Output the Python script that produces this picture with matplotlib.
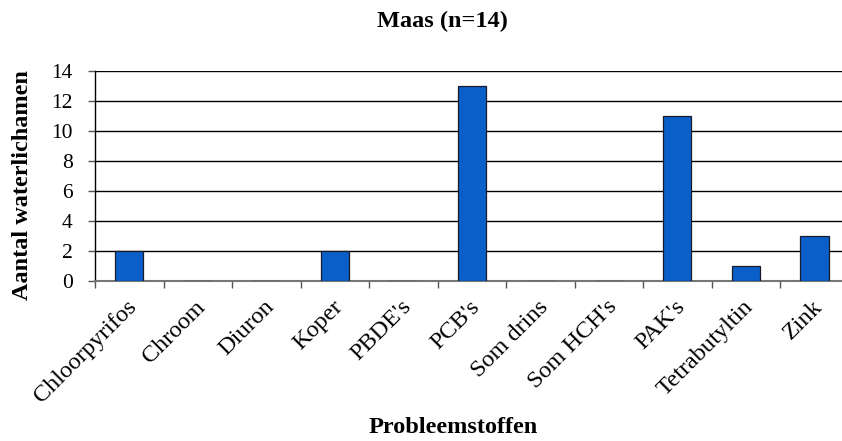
import matplotlib
matplotlib.use("Agg")
import matplotlib.pyplot as plt
import matplotlib.transforms as mtransforms
import numpy as np

categories = ["Chloorpyrifos", "Chroom", "Diuron", "Koper", "PBDE's", "PCB's",
              "Som drins", "Som HCH's", "PAK's", "Tetrabutyltin", "Zink"]
counts = [2, 0, 0, 2, 0, 13, 0, 0, 11, 1, 3]
yticks = [0, 2, 4, 6, 8, 10, 12, 14]

plt.rcParams['font.family'] = ['Liberation Serif', 'DejaVu Serif']

fig = plt.figure(figsize=(8.42, 4.41), dpi=100)
ax = fig.add_axes([0.1128, 0.3628, 0.8952, 0.4762])

x = np.arange(len(categories))
ax.bar(x, counts, width=0.41, color="#0a5fc8", edgecolor="#1a1a2a", linewidth=0.9, zorder=3)

ax.set_xlim(-0.5, len(categories) - 0.5)
ax.set_ylim(0, 14)
ax.set_yticks(yticks)
ax.set_yticklabels([str(v) for v in yticks], fontsize=15.5)
ax.yaxis.grid(True, color="black", linewidth=1.0, zorder=0)

ax.set_xticks(x)
ax.set_xticklabels(categories, rotation=45, ha="right", rotation_mode="anchor", fontsize=17.5)
ax.tick_params(axis="x", which="major", length=0, pad=11)
shift = mtransforms.ScaledTranslation(-3 / 100, 0, fig.dpi_scale_trans)
for lbl in ax.get_xticklabels():
    lbl.set_transform(lbl.get_transform() + shift)
ax.set_xticks(np.arange(len(categories) + 1) - 0.5, minor=True)
ax.tick_params(axis="x", which="minor", length=5, width=1, color="#555555", direction="out")
ax.tick_params(axis="y", length=5, width=1, color="#555555", direction="out", pad=11)

for side in ("top", "right"):
    ax.spines[side].set_visible(False)
ax.spines["left"].set_color("black")
ax.spines["left"].set_linewidth(1.0)
ax.spines["bottom"].set_color("#777777")
ax.spines["bottom"].set_linewidth(1.5)

fig.text(0.027, 0.58, "Aantal waterlichamen", fontsize=17.5, fontweight="bold",
         rotation=90, ha="center", va="center")
fig.text(0.538, 0.03, "Probleemstoffen", fontsize=17.5, fontweight="bold", ha="center", va="center")
fig.text(0.526, 0.951, "Maas (n=14)", fontsize=17.5, fontweight="bold", ha="center", va="center")

fig.savefig("out.png", dpi=100)
